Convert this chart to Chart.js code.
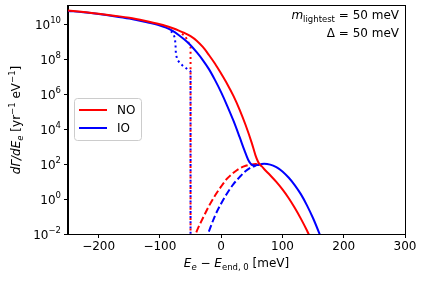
<!DOCTYPE html>
<html>
<head>
<meta charset="utf-8">
<script src="https://cdn.jsdelivr.net/npm/chart.js@4"></script>
<style>
  html, body { margin: 0; padding: 0; background: #fff; }
  #wrap { width: 421px; height: 281px; }
</style>
</head>
<body>
<div id="wrap"><canvas id="spectrum"></canvas></div>
<script>
// values; y given as log10 of dΓ/dE (decades on the log axis)
const noTotalX   = [-250, -225, -200, -175, -150, -125, -100, -90, -80, -70, -60, -50, -40, -30, -20, -10, 0, 10, 20, 30, 40, 50, 56, 60, 63, 66, 70, 80, 90, 100, 110, 120, 130, 140, 150];
const noTotalExp = [10.78, 10.7, 10.6, 10.49, 10.37, 10.2, 10.0, 9.9, 9.78, 9.65, 9.5, 9.32, 9.06, 8.7, 8.24, 7.74, 7.17, 6.57, 5.9, 5.12, 4.22, 3.2, 2.5, 2.15, 1.98, 1.88, 1.72, 1.36, 0.98, 0.55, 0.06, -0.5, -1.12, -1.8, -2.55];

const ioTotalX   = [-250, -225, -200, -175, -150, -125, -100, -90, -80, -70, -60, -50, -40, -30, -20, -10, 0, 10, 20, 30, 38, 44, 48, 52, 56, 60, 65, 70, 80, 90, 100, 110, 120, 130, 140, 150, 160, 166];
const ioTotalExp = [10.76, 10.68, 10.58, 10.46, 10.32, 10.14, 9.93, 9.8, 9.63, 9.4, 9.12, 8.8, 8.4, 7.95, 7.43, 6.8, 6.1, 5.32, 4.48, 3.55, 2.78, 2.25, 2.03, 1.93, 1.92, 1.95, 1.99, 2.02, 1.97, 1.82, 1.58, 1.23, 0.8, 0.28, -0.36, -1.1, -1.95, -2.5];

const noPeakX   = [-46, -40, -30, -20, -10, 0, 10, 20, 30, 40, 50, 56, 62, 66];
const noPeakExp = [-2.45, -1.85, -1.1, -0.4, 0.2, 0.72, 1.18, 1.5, 1.75, 1.9, 1.98, 2.0, 1.97, 1.9];

const ioPeakX   = [-26, -20, -10, 0, 10, 20, 30, 40, 50, 56];
const ioPeakExp = [-2.4, -1.85, -0.95, -0.25, 0.35, 0.85, 1.25, 1.6, 1.83, 1.9];

const noCutX   = [-64, -60, -56, -52, -50, -50];
const noCutExp = [9.45, 9.36, 9.15, 8.85, 8.7, -3];

const ioCutX   = [-82, -78, -75.5, -74.5, -74, -72, -68, -62, -56, -50, -50];
const ioCutExp = [9.6, 9.45, 9.2, 8.8, 8.35, 8.0, 7.8, 7.6, 7.45, 7.3, -3];

const xTicks = [-200, -100, 0, 100, 200, 300];
const yTickExps = [-2, 0, 2, 4, 6, 8, 10];
const legendNames = ["NO", "IO"];

const FONT = '"DejaVu Sans", sans-serif';
const RED = '#ff0000';
const BLUE = '#0000ff';

function pts(xs, es) {
  return xs.map((x, i) => ({ x: x, y: Math.pow(10, es[i]) }));
}

// draw a list of text runs [{t, f(ont), dy}] starting at x, baseline y
function runsWidth(ctx, runs) {
  let w = 0;
  runs.forEach(r => { ctx.font = r.f; w += ctx.measureText(r.t).width; });
  return w;
}
function drawRuns(ctx, runs, x, y) {
  ctx.textBaseline = 'alphabetic';
  ctx.textAlign = 'left';
  runs.forEach(r => {
    ctx.font = r.f;
    ctx.fillText(r.t, x, y + (r.dy || 0));
    x += ctx.measureText(r.t).width;
  });
}

const reg = (s) => s + 'px ' + FONT;
const ita = (s) => 'italic ' + s + 'px ' + FONT;

const decorations = {
  id: 'decorations',
  afterDraw(chart) {
    const ctx = chart.ctx;
    const a = chart.chartArea;
    const ys = chart.scales.y;
    ctx.save();
    ctx.fillStyle = '#000';

    // frame
    ctx.strokeStyle = '#000';
    ctx.lineWidth = 1;
    ctx.strokeRect(a.left - 0.5, a.top - 0.5, a.right - a.left + 1, a.bottom - a.top + 1);

    // y tick labels 10^n
    yTickExps.forEach(e => {
      const py = ys.getPixelForValue(Math.pow(10, e));
      const runs = [
        { t: '10', f: reg(12) },
        { t: String(e).replace('-', '\u2212'), f: reg(8.5), dy: -6 }
      ];
      const w = runsWidth(ctx, runs);
      drawRuns(ctx, runs, a.left - 7 - w, py + 4.5);
    });

    // x title
    const xt = [
      { t: 'E', f: ita(12) },
      { t: 'e', f: ita(8.5), dy: 2.5 },
      { t: ' \u2212 ', f: reg(12) },
      { t: 'E', f: ita(12) },
      { t: 'end, 0', f: reg(8.5), dy: 2.5 },
      { t: ' [meV]', f: reg(12) }
    ];
    const xw = runsWidth(ctx, xt);
    drawRuns(ctx, xt, (a.left + a.right) / 2 - xw / 2, 267);

    // y title (rotated)
    const yt = [
      { t: 'd\u0393/dE', f: ita(12) },
      { t: 'e', f: ita(8.5), dy: 2.5 },
      { t: ' [yr', f: reg(12) },
      { t: '\u22121', f: reg(8.5), dy: -5 },
      { t: ' eV', f: reg(12) },
      { t: '\u22121', f: reg(8.5), dy: -5 },
      { t: ']', f: reg(12) }
    ];
    const yw = runsWidth(ctx, yt);
    ctx.save();
    ctx.translate(20, (a.top + a.bottom) / 2);
    ctx.rotate(-Math.PI / 2);
    drawRuns(ctx, yt, -yw / 2, 0);
    ctx.restore();

    // annotation, top right
    const l1 = [
      { t: 'm', f: ita(12) },
      { t: 'lightest', f: reg(8.5), dy: 2.5 },
      { t: ' = 50 meV', f: reg(12) }
    ];
    const l2 = [{ t: '\u0394 = 50 meV', f: reg(12) }];
    drawRuns(ctx, l1, 399 - runsWidth(ctx, l1), 19);
    drawRuns(ctx, l2, 399 - runsWidth(ctx, l2), 37);

    // legend
    ctx.beginPath();
    ctx.roundRect(74.5, 98.5, 67, 42, 3);
    ctx.fillStyle = 'rgba(255,255,255,0.8)';
    ctx.fill();
    ctx.strokeStyle = '#cccccc';
    ctx.stroke();
    [[RED, 110], [BLUE, 128]].forEach((c, i) => {
      ctx.strokeStyle = c[0];
      ctx.lineWidth = 2;
      ctx.beginPath();
      ctx.moveTo(79, c[1]);
      ctx.lineTo(107, c[1]);
      ctx.stroke();
      ctx.fillStyle = '#000';
      ctx.font = reg(12);
      ctx.textBaseline = 'middle';
      ctx.fillText(legendNames[i], 117, c[1] + 0.5);
    });
    ctx.restore();
  }
};

const ctx = document.getElementById('spectrum').getContext('2d');

new Chart(ctx, {
  type: 'scatter',
  data: {
    datasets: [
      { label: 'NO', data: pts(noTotalX, noTotalExp), borderColor: RED },
      { label: 'IO', data: pts(ioTotalX, ioTotalExp), borderColor: BLUE },
      { label: 'NO peak', data: pts(noPeakX, noPeakExp), borderColor: RED, borderDash: [7, 3] },
      { label: 'IO peak', data: pts(ioPeakX, ioPeakExp), borderColor: BLUE, borderDash: [7, 3] },
      { label: 'NO cut', data: pts(noCutX, noCutExp), borderColor: RED, borderDash: [2, 3.2], cubicInterpolationMode: 'default', tension: 0 },
      { label: 'IO cut', data: pts(ioCutX, ioCutExp), borderColor: BLUE, borderDash: [2, 3.2], cubicInterpolationMode: 'default', tension: 0 }
    ]
  },
  options: {
    responsive: true,
    maintainAspectRatio: false,
    animation: false,
    showLine: true,
    elements: {
      point: { radius: 0, hoverRadius: 0 },
      line: { borderWidth: 2, cubicInterpolationMode: 'monotone', fill: false }
    },
    layout: { padding: { top: 6, right: 16, left: 0, bottom: 0 } },
    plugins: { legend: { display: false }, tooltip: { enabled: false } },
    scales: {
      x: {
        type: 'linear',
        min: -250,
        max: 300,
        afterBuildTicks: (s) => { s.ticks = xTicks.map(v => ({ value: v })); },
        afterFit: (s) => { s.height = 47; },
        grid: { drawOnChartArea: false, drawTicks: true, tickLength: 4, tickColor: '#000' },
        border: { display: true, color: '#000' },
        ticks: {
          color: '#000',
          font: { family: FONT, size: 12 },
          padding: 2,
          maxRotation: 0,
          callback: (v) => String(v).replace('-', '\u2212')
        }
      },
      y: {
        type: 'logarithmic',
        min: 1e-2,
        max: 1.1e11,
        afterBuildTicks: (s) => { s.ticks = yTickExps.map(e => ({ value: Math.pow(10, e) })); },
        afterFit: (s) => { s.width = 68; },
        grid: { drawOnChartArea: false, drawTicks: true, tickLength: 4, tickColor: '#000' },
        border: { display: true, color: '#000' },
        ticks: { display: false }
      }
    }
  },
  plugins: [decorations]
});
</script>
</body>
</html>
